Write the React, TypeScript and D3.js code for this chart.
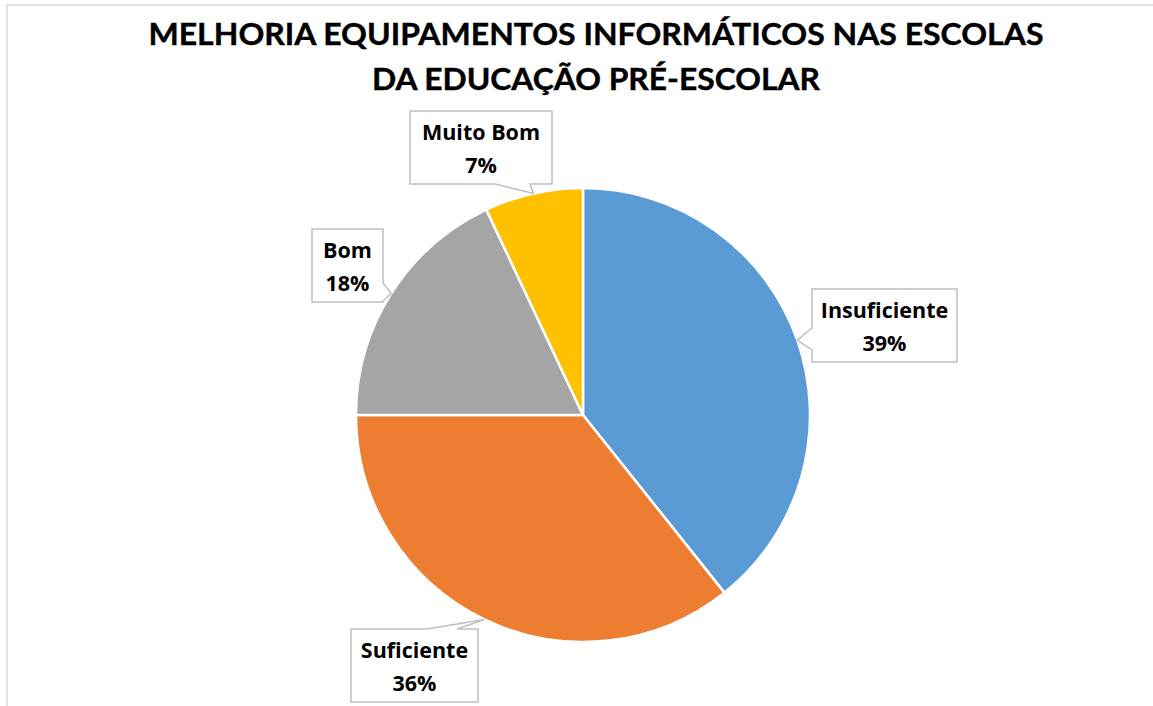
import React from "react";
import * as d3 from "d3";

const titleLines = ["MELHORIA EQUIPAMENTOS INFORMÁTICOS NAS ESCOLAS", "DA EDUCAÇÃO PRÉ-ESCOLAR"];
const categories = ["Insuficiente", "Suficiente", "Bom", "Muito Bom"];
const values = [39.3, 35.7, 18.0, 7.0];
const colors = ["#5B9BD5", "#ED7D31", "#A5A5A5", "#FFC000"];

// layout of callout boxes (positions only)
const callouts = [
  { x: 812, y: 289, w: 145, h: 73, side: "left", b0: 328, b1: 350 },
  { x: 351, y: 629, w: 127, h: 73, side: "top", b0: 427, b1: 457 },
  { x: 312, y: 229, w: 71, h: 73, side: "right", b0: 283, b1: 301 },
  { x: 410, y: 111, w: 142, h: 73, side: "bottom", b0: 495, b1: 530 },
];

const W = 1153;
const H = 706;
const cx = 583;
const cy = 415;
const R = 227;

function calloutPath(c: any, tip: [number, number]) {
  const x0 = c.x, y0 = c.y, x1 = c.x + c.w, y1 = c.y + c.h;
  const t = `${tip[0]},${tip[1]}`;
  switch (c.side) {
    case "top":
      return `M${x0},${y0}L${c.b0},${y0}L${t}L${c.b1},${y0}L${x1},${y0}L${x1},${y1}L${x0},${y1}Z`;
    case "right":
      return `M${x0},${y0}L${x1},${y0}L${x1},${c.b0}L${t}L${x1},${c.b1}L${x1},${y1}L${x0},${y1}Z`;
    case "bottom":
      return `M${x0},${y0}L${x1},${y0}L${x1},${y1}L${c.b1},${y1}L${t}L${c.b0},${y1}L${x0},${y1}Z`;
    default:
      return `M${x0},${y0}L${x1},${y0}L${x1},${y1}L${x0},${y1}L${x0},${c.b1}L${t}L${x0},${c.b0}Z`;
  }
}

export default function App() {
  const pie = d3.pie<number>().sort(null).value((d) => d);
  const arcs = pie(values);
  const arc = d3.arc<d3.PieArcDatum<number>>().innerRadius(0).outerRadius(R);
  const total = d3.sum(values);
  const titleFont = "Lato, 'Open Sans', sans-serif";
  const labelFont = "'Open Sans', Lato, sans-serif";

  return (
    <svg width={W} height={H} style={{ position: "absolute", left: 0, top: 0, background: "#fff" }}>
      <rect x={7} y={5} width={W + 20} height={H + 20} fill="#fff" stroke="#d9d9d9" strokeWidth={1.5} />
      {titleLines.map((t, i) => (
        <text
          key={i}
          x={596}
          y={i === 0 ? 45 : 90}
          textAnchor="middle"
          fontFamily={titleFont}
          fontWeight={700}
          fontSize={31}
          fill="#000"
          stroke="#000"
          strokeWidth={0.4}
          textLength={i === 0 ? 895 : 448}
          lengthAdjust="spacingAndGlyphs"
        >
          {t}
        </text>
      ))}
      <g transform={`translate(${cx},${cy})`}>
        {arcs.map((a, i) => (
          <path key={i} d={arc(a) || ""} fill={colors[i]} stroke="#fff" strokeWidth={2.5} strokeLinejoin="round" />
        ))}
      </g>
      {arcs.map((a, i) => {
        const mid = (a.startAngle + a.endAngle) / 2;
        const tip: [number, number] = [cx + R * Math.sin(mid), cy - R * Math.cos(mid)];
        const c = callouts[i];
        const mx = c.x + c.w / 2;
        const my = c.y + c.h / 2;
        const pct = Math.round((values[i] / total) * 100) + "%";
        return (
          <g key={i}>
            <path d={calloutPath(c, tip)} fill="#fff" stroke="#bfbfbf" strokeWidth={1.5} strokeLinejoin="miter" />
            <text x={mx} y={my - 8} textAnchor="middle" fontFamily={labelFont} fontWeight={700} fontSize={21.5} fill="#000">
              {categories[i]}
            </text>
            <text x={mx} y={my + 25} textAnchor="middle" fontFamily={labelFont} fontWeight={700} fontSize={21.5} fill="#000">
              {pct}
            </text>
          </g>
        );
      })}
    </svg>
  );
}
